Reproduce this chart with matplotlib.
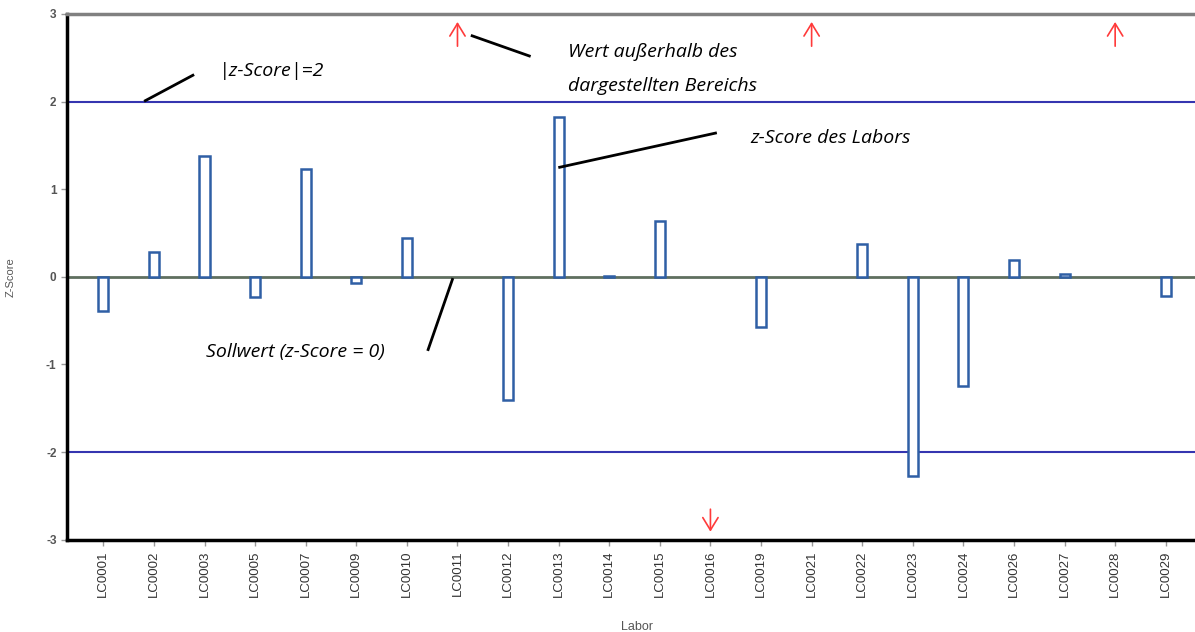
import matplotlib.pyplot as plt
import numpy as np

labore = ["LC0001", "LC0002", "LC0003", "LC0005", "LC0007", "LC0009", "LC0010",
          "LC0011", "LC0012", "LC0013", "LC0014", "LC0015", "LC0016", "LC0019",
          "LC0021", "LC0022", "LC0023", "LC0024", "LC0026", "LC0027", "LC0028",
          "LC0029"]
z_score = [-0.39, 0.28, 1.38, -0.23, 1.23, -0.07, 0.44,
           np.nan, -1.41, 1.82, 0.01, 0.64, np.nan, -0.57,
           np.nan, 0.38, -2.27, -1.25, 0.19, 0.03, np.nan,
           -0.22]
# +1 = Wert oberhalb, -1 = Wert unterhalb des dargestellten Bereichs
ausserhalb = [0, 0, 0, 0, 0, 0, 0,
              1, 0, 0, 0, 0, -1, 0,
              1, 0, 0, 0, 0, 0, 1,
              0]

plt.rcParams['font.family'] = ['Liberation Sans', 'DejaVu Sans']

fig = plt.figure(figsize=(11.95, 6.32), dpi=100)
ax = fig.add_axes([0.056, 0.146, 0.95, 0.832])

x = np.arange(len(labore))
ax.bar(x, z_score, width=0.2, color='white', edgecolor='#2f5fa5', linewidth=1.8, zorder=3)

ax.axhline(0, color='#5f6f5f', lw=2, zorder=2)
ax.axhline(2, color='#3535b0', lw=1.5, zorder=2)
ax.axhline(-2, color='#3535b0', lw=1.5, zorder=2)

pfeil = dict(arrowstyle='->,head_length=0.9,head_width=0.55', color='#ff3a3a', lw=1.2)
for xi, r in zip(x, ausserhalb):
    if r == 1:
        ax.annotate('', xy=(xi, 2.94), xytext=(xi, 2.6), arrowprops=pfeil)
    elif r == -1:
        ax.annotate('', xy=(xi, -2.94), xytext=(xi, -2.62), arrowprops=pfeil)

ax.set_xlim(-0.72, 21.72)
ax.set_ylim(-3, 3)
ax.set_yticks([-3, -2, -1, 0, 1, 2, 3])
ax.set_yticklabels(['-3', '-2', '-1', '0', '1', '2', '3'], fontsize=8.5, fontweight='bold', color='#555555')
ax.set_xticks(x)
ax.set_xticklabels(labore, rotation=90, fontsize=9.5, color='#333333')
ax.tick_params(axis='both', length=4, color='#999999', width=1)

ax.spines['left'].set_linewidth(2.5)
ax.spines['bottom'].set_linewidth(2.5)
ax.spines['top'].set_linewidth(2.5)
ax.spines['top'].set_color('#808080')
ax.spines['right'].set_visible(False)

ax.set_ylabel('Z-Score', fontsize=8, color='#555555')
ax.yaxis.set_label_coords(-0.045, 0.5)
ax.set_xlabel('Labor', fontsize=9, color='#555555')
ax.xaxis.set_label_coords(0.502, -0.155)

# Beschriftungen
txt = dict(fontsize=14, style='italic', family='Open Sans', color='black')
ax.plot([0.83, 1.77], [2.01, 2.30], color='black', lw=2, zorder=4)
ax.text(2.28, 2.35, '|z-Score|=2', va='center', **txt)
ax.plot([7.29, 8.42], [2.75, 2.52], color='black', lw=2, zorder=4)
ax.text(9.18, 2.56, 'Wert außerhalb des', va='center', **txt)
ax.text(9.18, 2.18, 'dargestellten Bereichs', va='center', **txt)
ax.plot([9.02, 12.1], [1.25, 1.64], color='black', lw=2, zorder=4)
ax.text(12.78, 1.58, 'z-Score des Labors', va='center', **txt)
ax.plot([6.9, 6.42], [-0.03, -0.83], color='black', lw=2, zorder=4)
ax.text(2.03, -0.86, 'Sollwert (z-Score = 0)', va='center', **txt)

fig.savefig('out.png', dpi=100)
